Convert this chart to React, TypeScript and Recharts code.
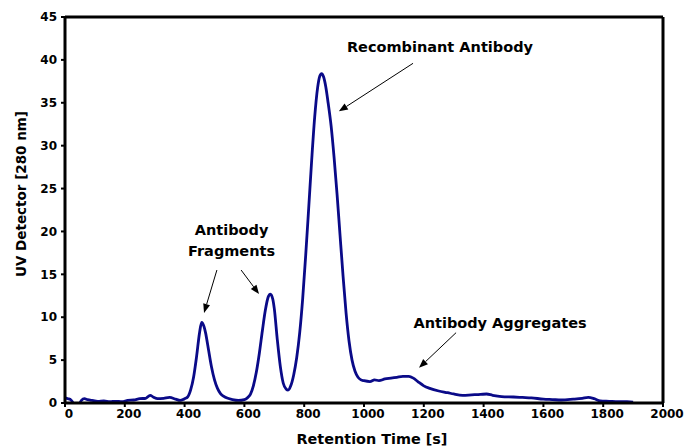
import React from "react";
import {
  LineChart,
  Line,
  XAxis,
  YAxis,
  Label,
  ReferenceLine,
  ReferenceDot,
} from "recharts";

// retention time [s] and UV signal [280 nm]
const timeS = [
  0, 10, 20, 30, 38, 46, 55, 65, 75, 90, 110, 130, 150, 170, 190, 210, 230, 250, 270, 285, 295, 310, 330, 350, 370, 385, 395,
  400, 410, 420, 430, 440, 450, 457, 465, 470, 480, 490, 500, 510, 520, 530, 540, 560, 580,
  600, 610, 620, 630, 640, 650, 660, 670, 680, 687, 695, 700, 710, 720, 730, 740, 746,
  755, 765, 775, 785, 795, 805, 815, 825, 835, 845, 852, 858, 865, 872, 880, 890, 900, 910, 920, 930, 940, 950, 960, 970, 980, 990,
  1000, 1020, 1035, 1050, 1070, 1090, 1110, 1130, 1150, 1165, 1180, 1200, 1220, 1250, 1280, 1300, 1330, 1360, 1390, 1410, 1430,
  1460, 1500, 1530, 1560, 1600, 1630, 1660, 1700, 1730, 1750, 1770, 1790, 1820, 1850, 1880, 1900,
];
const uvSignal = [
  0.6, 0.5, 0.35, -0.2, -0.9, -0.3, 0.3, 0.5, 0.4, 0.3, 0.2, 0.25, 0.15, 0.2, 0.15, 0.3, 0.35, 0.5, 0.55, 0.9, 0.7, 0.5, 0.55, 0.65, 0.45, 0.3, 0.4,
  0.5, 0.7, 1.5, 3.0, 5.4, 8.2, 9.4, 8.9, 8.2, 6.2, 4.2, 2.7, 1.7, 1.1, 0.8, 0.6, 0.4, 0.3,
  0.4, 0.6, 1.0, 2.0, 3.6, 5.8, 8.4, 10.8, 12.4, 12.7, 12.1, 11.0, 7.4, 4.3, 2.3, 1.6, 1.5,
  2.0, 3.3, 5.3, 8.2, 12.2, 17.2, 22.7, 28.3, 33.3, 36.8, 38.1, 38.4, 38.0, 36.9, 35.0, 32.3, 28.6, 24.3, 19.5, 14.8, 10.5, 7.2, 5.0, 3.7, 3.0, 2.7,
  2.6, 2.5, 2.7, 2.6, 2.8, 2.9, 3.0, 3.1, 3.1, 2.9, 2.5, 2.0, 1.7, 1.4, 1.2, 1.05, 0.9, 0.95, 1.0, 1.05, 0.9,
  0.75, 0.7, 0.65, 0.6, 0.45, 0.4, 0.35, 0.45, 0.55, 0.65, 0.5, 0.25, 0.2, 0.15, 0.15, 0.1,
];

const xTicks = [0, 200, 400, 600, 800, 1000, 1200, 1400, 1600, 1800, 2000];
const yTicks = [0, 5, 10, 15, 20, 25, 30, 35, 40, 45];

// annotation text (data coords)
const notes = [
  { text: "Recombinant Antibody", x: 1254, y: 41.5 },
  { text: "Antibody", x: 557, y: 20.2 },
  { text: "Fragments", x: 557, y: 17.7 },
  { text: "Antibody Aggregates", x: 1455, y: 9.3 },
];

// arrows: from -> to (data coords)
const arrows = [
  { from: { x: 1164, y: 39.6 }, to: { x: 916, y: 34.0 } },
  { from: { x: 508, y: 15.5 }, to: { x: 465, y: 10.5 } },
  { from: { x: 589, y: 15.5 }, to: { x: 649, y: 12.7 } },
  { from: { x: 1308, y: 8.2 }, to: { x: 1184, y: 4.1 } },
];

const data = timeS.map((t, i) => ({ t, uv: uvSignal[i] }));

const FONT = "'DejaVu Sans', Verdana, sans-serif";

function Arrow(props: any) {
  const { x1, y1, x2, y2 } = props;
  const ang = Math.atan2(y2 - y1, x2 - x1);
  const len = 9;
  const half = 3.5;
  const bx = x2 - len * Math.cos(ang);
  const by = y2 - len * Math.sin(ang);
  const px = -Math.sin(ang) * half;
  const py = Math.cos(ang) * half;
  return (
    <g>
      <line x1={x1} y1={y1} x2={bx} y2={by} stroke="#000" strokeWidth={1} />
      <polygon
        points={`${x2},${y2} ${bx + px},${by + py} ${bx - px},${by - py}`}
        fill="#000"
      />
    </g>
  );
}

function NoteText(text: string) {
  return (props: any) => (
    <text
      x={props.cx}
      y={props.cy}
      textAnchor="middle"
      dominantBaseline="central"
      fontFamily={FONT}
      fontWeight="bold"
      fontSize={14.5}
      fill="#000"
    >
      {text}
    </text>
  );
}

function YTitle(props: any) {
  const { x, y, height } = props.viewBox;
  const cx = x + 1;
  const cy = y + height / 2 - 16;
  return (
    <text
      x={cx}
      y={cy}
      transform={`rotate(-90, ${cx}, ${cy})`}
      textAnchor="middle"
      dominantBaseline="central"
      fontFamily={FONT}
      fontWeight="bold"
      fontSize={13.5}
      fill="#000"
    >
      UV Detector [280 nm]
    </text>
  );
}

function XTitle(props: any) {
  const { x, width } = props.viewBox;
  return (
    <text
      x={x + width / 2 + 8}
      y={444}
      textAnchor="middle"
      fontFamily={FONT}
      fontWeight="bold"
      fontSize={14.4}
      fill="#000"
    >
      Retention Time [s]
    </text>
  );
}

const tickStyle = {
  fontFamily: FONT,
  fontWeight: "bold" as const,
  fontSize: 12,
  fill: "#000",
};

export default function App() {
  return (
    <div style={{ position: "absolute", left: 0, top: 0, background: "#fff" }}>
      <LineChart
        width={691}
        height={447}
        data={data}
        margin={{ top: 17, right: 28, bottom: 0, left: 20 }}
      >
        <XAxis
          dataKey="t"
          type="number"
          domain={[0, 2000]}
          ticks={xTicks}
          interval={0}
          height={44}
          axisLine={{ stroke: "#000", strokeWidth: 3 }}
          tickLine={{ stroke: "#000", strokeWidth: 2 }}
          tickSize={4}
          tick={{ ...tickStyle, dx: 4 }}
        >
          <Label content={XTitle} />
        </XAxis>
        <YAxis
          type="number"
          domain={[0, 45]}
          allowDataOverflow
          ticks={yTicks}
          interval={0}
          width={45}
          axisLine={{ stroke: "#000", strokeWidth: 3 }}
          tickLine={{ stroke: "#000", strokeWidth: 2 }}
          tickSize={4}
          tickMargin={4}
          tick={tickStyle}
        >
          <Label content={YTitle} />
        </YAxis>
        <ReferenceLine y={45} stroke="#000" strokeWidth={3} />
        <ReferenceLine x={2000} stroke="#000" strokeWidth={3} />
        <Line
          type="monotone"
          dataKey="uv"
          stroke="#0a0a88"
          strokeWidth={2.8}
          dot={false}
          isAnimationActive={false}
        />
        {arrows.map((a, i) => (
          <ReferenceLine
            key={`arrow-${i}`}
            segment={[a.from, a.to]}
            shape={Arrow}
          />
        ))}
        {notes.map((n) => (
          <ReferenceDot
            key={n.text}
            x={n.x}
            y={n.y}
            r={0}
            shape={NoteText(n.text)}
          />
        ))}
      </LineChart>
    </div>
  );
}
